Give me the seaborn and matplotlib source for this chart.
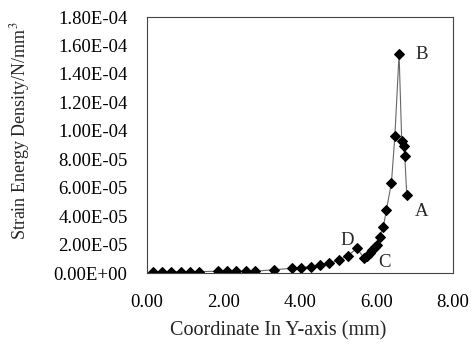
import matplotlib
matplotlib.use("Agg")
import matplotlib.pyplot as plt
import seaborn as sns
import pandas as pd
from matplotlib.ticker import FuncFormatter, MultipleLocator

coord = [0.15, 0.39, 0.63, 0.88, 1.12, 1.36, 1.85, 2.09, 2.33, 2.58, 2.82, 3.31,
         3.79, 4.03, 4.28, 4.52, 4.76, 5.01, 5.25, 5.49, 5.68, 5.75, 5.82, 5.89,
         5.96, 6.01, 6.08, 6.18, 6.26, 6.39, 6.48, 6.59, 6.66, 6.71, 6.74, 6.79]
energy_e5 = [0.10, 0.10, 0.10, 0.10, 0.10, 0.10, 0.12, 0.12, 0.12, 0.12, 0.12, 0.23,
             0.33, 0.38, 0.45, 0.56, 0.68, 0.89, 1.22, 1.73, 1.03, 1.22, 1.41, 1.59,
             1.80, 1.95, 2.53, 3.26, 4.45, 6.33, 9.61, 15.42, 9.26, 8.95, 8.20, 5.51]
energy = [v * 1e-5 for v in energy_e5]
point_labels = ["A", "B", "C", "D"]
label_pos = [(7.19, 4.29e-5), (7.19, 1.533e-4), (6.22, 0.77e-5), (5.23, 2.32e-5)]

df = pd.DataFrame({"x": coord, "y": energy})

sns.set_style("white")
plt.rcParams["font.family"] = ["Liberation Serif", "DejaVu Serif"]
plt.rcParams["mathtext.fontset"] = "stix"

fig = plt.figure(figsize=(4.72, 3.46), dpi=100)
ax = fig.add_axes([147 / 472, 1 - 273 / 346, 306 / 472, 256 / 346])

sns.lineplot(data=df, x="x", y="y", sort=False, ax=ax, color="#666666",
             linewidth=0.8, marker="D", markersize=5,
             markerfacecolor="black", markeredgecolor="black")

ax.set_xlim(0, 8)
ax.set_ylim(0, 1.8e-4)
ax.xaxis.set_major_locator(MultipleLocator(2))
ax.yaxis.set_major_locator(MultipleLocator(2e-5))
ax.xaxis.set_major_formatter(FuncFormatter(lambda v, p: f"{v:.2f}"))
ax.yaxis.set_major_formatter(FuncFormatter(lambda v, p: f"{v:.2E}"))

ax.tick_params(direction="in", length=4, width=0.8, labelsize=13.5, colors="black")
ax.tick_params(axis="y", pad=14)
ax.tick_params(axis="x", pad=15)
for s in ax.spines.values():
    s.set_color("#444444")
    s.set_linewidth(0.8)

ax.set_xlabel("Coordinate In Y-axis (mm)", fontsize=14.5, labelpad=9)
ax.xaxis.set_label_coords(0.43, -0.19)
ax.set_ylabel("Strain Energy Density/N/mm$^3$", fontsize=13)
ax.yaxis.set_label_coords(-0.375, 0.555)

for lab, (lx, ly) in zip(point_labels, label_pos):
    ax.text(lx, ly, lab, fontsize=13.5, ha="center", va="center")

fig.savefig("out.png", dpi=100)
